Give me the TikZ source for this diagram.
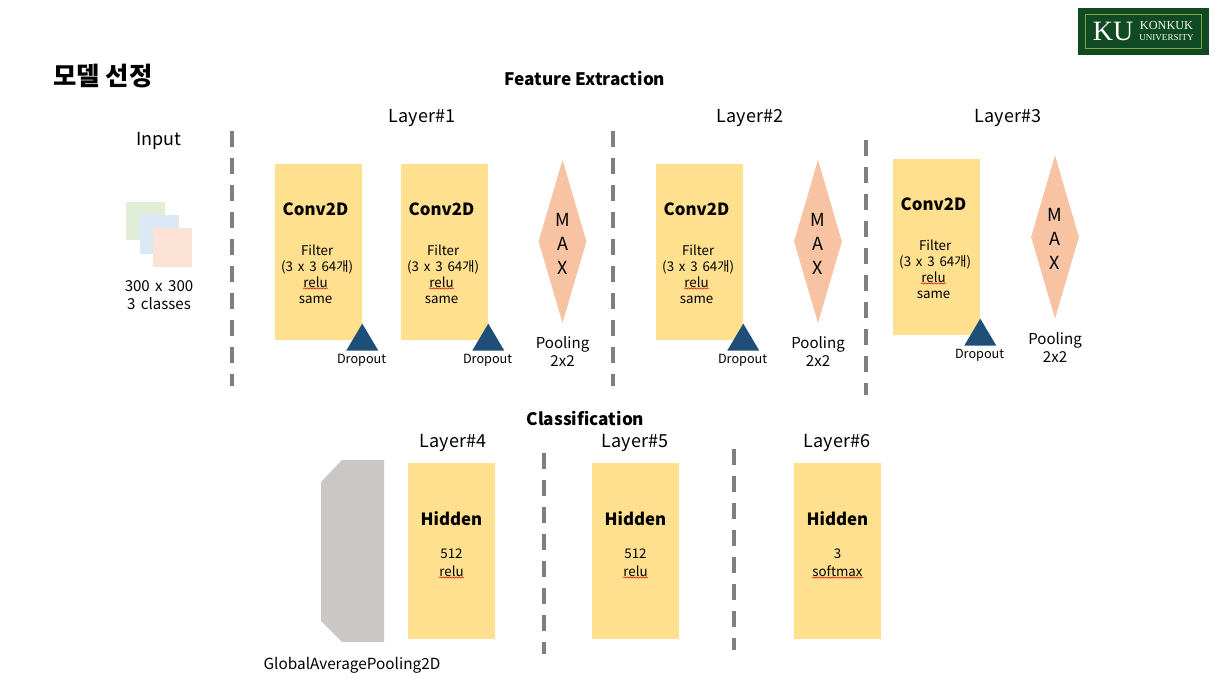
\documentclass[tikz,border=0pt]{standalone}
\usepackage{fontspec}
\setmainfont{Noto Sans CJK KR}
\newfontfamily\logofont{Liberation Serif}
\newfontfamily\widefont[WordSpace=1.6]{Noto Sans CJK KR}
\usetikzlibrary{decorations.pathmorphing,shapes.geometric}
\definecolor{boxyellow}{HTML}{FFE08F}
\definecolor{maxpeach}{HTML}{F7C3A3}
\definecolor{dropblue}{HTML}{1F4E79}
\definecolor{sepgray}{HTML}{7F7F7F}
\definecolor{gapgray}{HTML}{C9C8C6}
\definecolor{logogreen}{HTML}{0F4A22}
\definecolor{logoline}{HTML}{7FA83C}
\definecolor{swgreen}{HTML}{E0EED8}
\definecolor{swblue}{HTML}{DBE8F6}
\definecolor{swpeach}{HTML}{FBE2D4}
\tikzset{
	lbl/.style={inner sep=0pt,font=\fontsize{13.5}{16}\selectfont},
	head/.style={inner sep=0pt,font=\fontsize{12.9}{15}\selectfont\bfseries},
	small/.style={inner sep=0pt,font=\widefont\fontsize{10}{12}\selectfont},
	two/.style={inner sep=0pt,align=center,font=\widefont\fontsize{11.3}{13.5}\selectfont},
	drop/.style={inner sep=0pt,font=\fontsize{9.5}{11}\selectfont},
	title/.style={inner sep=0pt,font=\fontsize{12.6}{16}\selectfont\bfseries},
	block/.style={fill=boxyellow,inner sep=0pt,minimum width=65.25pt,minimum height=132pt},
	sep/.style={draw=sepgray,line width=2.4pt,dash pattern=on 12pt off 8.25pt},
	wavy/.style={draw=red!80!black,line width=0.4pt,decorate,decoration={snake,amplitude=0.5pt,segment length=2.4pt}},
	swatch/.style={inner sep=0pt,minimum size=29pt},
	maxd/.style={draw=none,fill=maxpeach},
	tri/.style={fill=dropblue}
}
\begin{document}
\begin{tikzpicture}[x=0.75pt,y=-0.75pt]
	\useasboundingbox (0,0) rectangle (1222,680);
	% logo
	\node[fill=logogreen,minimum width=98.25pt,minimum height=35.25pt,inner sep=0pt] (logo) at (1143.5,31.5) {};
	\node[draw=logoline,line width=0.7pt,minimum width=87.5pt,minimum height=26pt,inner sep=0pt] (logoin) at (1143.5,31.5) {};
	\node[inner sep=0pt,text=white,font=\logofont\fontsize{21}{21}\selectfont] (ku) at (1113,31.5) {KU};
	\node[inner sep=0pt,text=white,font=\logofont\fontsize{9.2}{9}\selectfont] (konkuk) at (1166.5,25.5) {KONKUK};
	\node[inner sep=0pt,text=white,font=\logofont\fontsize{6.8}{7}\selectfont] (univ) at (1166.5,37.5) {UNIVERSITY};

	% titles
	\node[inner sep=0pt,font=\fontsize{19}{22}\selectfont\bfseries] (slide) at (103,76) {모델 선정};
	\node[head] (feat) at (585,78) {Feature Extraction};
	\node[head] (cls) at (585.5,418) {Classification};
	\node[lbl] (input) at (159,141) {Input};
	\node[lbl] (l1) at (422,118.5) {Layer\#1};
	\node[lbl] (l2) at (750,118.5) {Layer\#2};
	\node[lbl] (l3) at (1008,118.5) {Layer\#3};
	\node[lbl] (l4) at (453,443) {Layer\#4};
	\node[lbl] (l5) at (635,443) {Layer\#5};
	\node[lbl] (l6) at (837,443) {Layer\#6};

	% input
	\node[swatch,fill=swgreen] (s1) at (145.5,221) {};
	\node[swatch,fill=swblue] (s2) at (159.5,234.5) {};
	\node[swatch,fill=swpeach] (s3) at (172.5,247.5) {};
	\node[two] (insize) at (159,295) {300 x 300\\3 classes};

	% separators
	\coordinate (a1) at (232,131); \coordinate (a2) at (232,386);
	\coordinate (b1) at (613,131); \coordinate (b2) at (613,386);
	\coordinate (c1) at (866,140); \coordinate (c2) at (866,395);
	\coordinate (d1) at (544,453); \coordinate (d2) at (544,654);
	\coordinate (e1) at (734,449); \coordinate (e2) at (734,650);
	\foreach \p in {a,b,c,d,e}
		\draw[sep] (\p1) -- (\p2);

	% conv blocks
	\foreach \n/\x/\y in {c1/318.5/252,c2/444.5/252,c3/699.5/252,c4/936.5/247}{
		\node[block] (\n) at (\x,\y) {};
		\node[title] (\n t) at ([xshift=-2.25pt,yshift=32pt]\n.center) {Conv2D};
		\node[small,align=center] (\n f) at ([xshift=-1pt,yshift=-6pt]\n.center) {Filter\\(3 x 3 64개)};
		\node[small] (\n r) at ([xshift=-2.25pt,yshift=-22.5pt]\n.center) {relu};
		\node[small] (\n s) at ([xshift=-2.25pt,yshift=-36pt]\n.center) {same};
		\draw[wavy] ([yshift=-0.6pt]\n r.south west) -- ([yshift=-0.6pt]\n r.south east);
		\fill[tri] ([yshift=12.5pt]\n.south east) -- ++(12pt,-20.25pt) -- ++(-24pt,0) -- cycle;
		\node[drop] (\n d) at ([xshift=-0.5pt,yshift=-15pt]\n.south east) {Dropout};
	}

	% pooling
	\foreach \n/\x/\y in {m1/562.5/241.5,m2/818/241.5,m3/1055/237}{
		\node[diamond,maxd,minimum width=36pt,minimum height=122.5pt,inner sep=0pt] (\n) at (\x,\y) {};
		\node[lbl] (\n a) at ([yshift=-1.75pt]\n.center) {A};
		\node[lbl] (\n m) at ([yshift=16.25pt]\n.center) {M};
		\node[lbl] (\n x) at ([yshift=-19.75pt]\n.center) {X};
		\node[two] (\n p) at ([yshift=-82.75pt]\n.center) {Pooling\\2x2};
	}

	% classification
	\draw[draw=none,fill=gapgray] (342,460) -- (384,460) -- (384,642) -- (342,642) -- (321,621) -- (321,482) -- cycle;
	\node[inner sep=0pt,font=\fontsize{11.5}{13}\selectfont] (gap) at (352,665) {GlobalAveragePooling2D};
	\foreach \n/\x/\num/\act in {h1/451.5/512/relu,h2/635.5/512/relu,h3/837.5/3/softmax}{
		\node[block] (\n) at (\x,551) {};
		\node[title] (\n t) at ([yshift=24pt]\n.center) {Hidden};
		\node[small] (\n n) at ([yshift=-2pt]\n.center) {\num};
		\node[small] (\n r) at ([yshift=-15pt]\n.center) {\act};
		\draw[wavy] ([yshift=-0.6pt]\n r.south west) -- ([yshift=-0.6pt]\n r.south east);
	}
\end{tikzpicture}
\end{document}
